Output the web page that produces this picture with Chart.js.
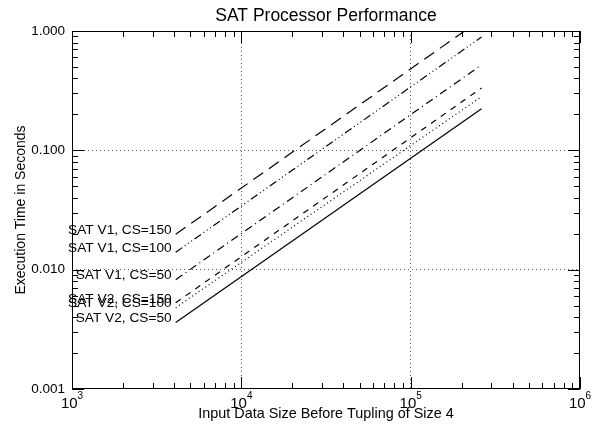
<!DOCTYPE html>
<html>
<head>
<meta charset="utf-8">
<title>SAT Processor Performance</title>
<script src="https://cdn.jsdelivr.net/npm/chart.js@4.4.1/dist/chart.umd.min.js"></script>
<style>
  html, body { margin: 0; padding: 0; background: #fff; }
  #wrap { width: 592px; height: 424px; }
</style>
</head>
<body>
<div id="wrap"><canvas id="perf" width="592" height="424"></canvas></div>
<script>
// data (input size vs seconds, log-log)
const inputSizes = [4096, 262144];
const seriesNames = ['SAT V1, CS=150', 'SAT V1, CS=100', 'SAT V1, CS=50',
                     'SAT V2, CS=150', 'SAT V2, CS=100', 'SAT V2, CS=50'];
const v1cs150 = [0.0198, 1.26];
const v1cs100 = [0.0140, 0.89];
const v1cs50  = [0.00825, 0.52];
const v2cs150 = [0.00528, 0.333];
const v2cs100 = [0.0048, 0.282];
const v2cs50  = [0.0036, 0.223];
const lineDashes = [[12, 7], [8, 3, 1, 3, 1, 3, 1, 3], [8, 4, 1, 4], [6, 6], [1, 3], []];

const xMajorTicks = [1e3, 1e4, 1e5, 1e6];
const xTickExponents = ['3', '4', '5', '6'];
const yMajorTicks = [0.001, 0.01, 0.1, 1];
const yTickLabels = ['0.001', '0.010', '0.100', '1.000'];

const FONT = "'Liberation Sans', 'DejaVu Sans', sans-serif";
const allSeries = [v1cs150, v1cs100, v1cs50, v2cs150, v2cs100, v2cs50];

const datasets = allSeries.map((vals, i) => ({
  label: seriesNames[i],
  data: inputSizes.map((x, j) => ({ x: x, y: vals[j] })),
  borderColor: '#000',
  borderWidth: 1.2,
  borderDash: lineDashes[i],
  pointRadius: 0,
  fill: false,
  tension: 0
}));

// grid only on inner decades, not on the frame
function gridColor(c) {
  const v = c.tick ? c.tick.value : null;
  const s = c.scale;
  if (v === null || v <= s.min || v >= s.max) return 'rgba(0,0,0,0)';
  return '#555';
}

// frame, inward ticks, superscript x labels, curve labels
const idlFrame = {
  id: 'idlFrame',
  afterDraw(chart) {
    const ctx = chart.ctx;
    const a = chart.chartArea;
    const xs = chart.scales.x, ys = chart.scales.y;
    ctx.save();
    ctx.strokeStyle = '#000';
    ctx.lineWidth = 1;
    ctx.strokeRect(a.left + 0.5, a.top + 0.5, a.right - a.left - 1, a.bottom - a.top - 1);

    ctx.beginPath();
    for (let e = 3; e <= 6; e++) {
      for (let m = 1; m <= 9; m++) {
        const v = m * Math.pow(10, e);
        if (v < xs.min || v > xs.max) continue;
        const px = Math.round(xs.getPixelForValue(v)) + 0.5;
        const len = m === 1 ? 12 : 6;
        ctx.moveTo(px, a.bottom); ctx.lineTo(px, a.bottom - len);
        ctx.moveTo(px, a.top); ctx.lineTo(px, a.top + len);
      }
    }
    for (let e = -3; e <= 0; e++) {
      for (let m = 1; m <= 9; m++) {
        const v = m * Math.pow(10, e);
        if (v < ys.min || v > ys.max + 1e-9) continue;
        const py = Math.round(ys.getPixelForValue(v)) + 0.5;
        const len = m === 1 ? 12 : 6;
        ctx.moveTo(a.left, py); ctx.lineTo(a.left + len, py);
        ctx.moveTo(a.right, py); ctx.lineTo(a.right - len, py);
      }
    }
    ctx.stroke();

    // x tick labels as 10 with superscript exponent
    ctx.fillStyle = '#000';
    ctx.textBaseline = 'middle';
    xMajorTicks.forEach((v, i) => {
      const px = xs.getPixelForValue(v);
      ctx.font = '15px ' + FONT;
      const wBase = ctx.measureText('10').width;
      ctx.font = '10px ' + FONT;
      const wExp = ctx.measureText(xTickExponents[i]).width;
      const x0 = px - (wBase + wExp) / 2;
      ctx.textAlign = 'left';
      ctx.font = '15px ' + FONT;
      ctx.fillText('10', x0, a.bottom + 15);
      ctx.font = '10px ' + FONT;
      ctx.fillText(xTickExponents[i], x0 + wBase, a.bottom + 7);
    });

    // curve labels at the start of each line
    ctx.font = '13.7px ' + FONT;
    ctx.textAlign = 'right';
    allSeries.forEach((vals, i) => {
      const px = xs.getPixelForValue(inputSizes[0]);
      const py = ys.getPixelForValue(vals[0]);
      ctx.fillText(seriesNames[i], px - 4, py - 4);
    });
    ctx.restore();
  }
};

new Chart(document.getElementById('perf'), {
  type: 'line',
  data: { datasets: datasets },
  plugins: [idlFrame],
  options: {
    responsive: false,
    animation: false,
    events: [],
    layout: { padding: { left: 0, right: 12, top: 0, bottom: 0 } },
    plugins: {
      legend: { display: false },
      tooltip: { enabled: false },
      title: {
        display: true,
        fullSize: false,
        text: 'SAT Processor Performance',
        color: '#000',
        font: { family: FONT, size: 17.5, weight: 'normal' },
        padding: { top: 6, bottom: 4 }
      }
    },
    scales: {
      x: {
        type: 'logarithmic',
        position: 'bottom',
        min: 1e3,
        max: 1e6,
        afterBuildTicks: s => { s.ticks = xMajorTicks.map(v => ({ value: v })); },
        afterFit: s => { s.height = 35; },
        ticks: { display: false },
        grid: { color: gridColor, drawTicks: false, lineWidth: 1 },
        border: { display: false, dash: [1, 3] },
        title: {
          display: true,
          text: 'Input Data Size Before Tupling of Size 4',
          color: '#000',
          font: { family: FONT, size: 14.4 },
          padding: { top: 0, bottom: 1 }
        }
      },
      y: {
        type: 'logarithmic',
        position: 'left',
        min: 0.001,
        max: 1,
        afterBuildTicks: s => { s.ticks = yMajorTicks.map(v => ({ value: v })); },
        afterFit: s => { s.width = 72; },
        ticks: {
          color: '#000',
          font: { family: FONT, size: 13.5 },
          padding: 7,
          autoSkip: false,
          callback: (val, idx) => yTickLabels[idx]
        },
        grid: { color: gridColor, drawTicks: false, lineWidth: 1 },
        border: { display: false, dash: [1, 3] },
        title: {
          display: true,
          text: 'Execution Time in Seconds',
          color: '#000',
          font: { family: FONT, size: 14 },
          padding: { top: 13, bottom: 0 }
        }
      }
    }
  }
});
</script>
</body>
</html>
